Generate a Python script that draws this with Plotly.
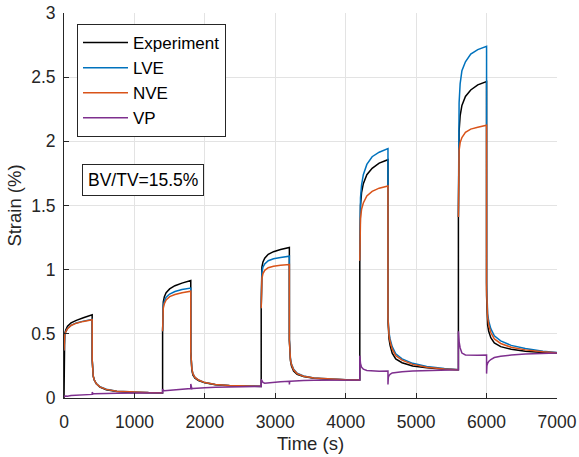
import plotly.graph_objects as go

# ---- data ----
cycle_starts = [0, 1400, 2800, 4200, 5600]
# per-cycle sample offsets (s): base, gap, jump, loading..., 400, drop, recovery...
offsets = [0, 0, 0, 3, 10, 25, 50, 100, 175, 275, 400,
           400, 405, 415, 430, 460, 510, 600, 750, 950, 1200]
t_end = 7000

experiment = [
    0.00, 0.00, 0.37, 0.47, 0.50, 0.53, 0.56, 0.585, 0.605, 0.625, 0.648,
    0.30, 0.22, 0.17, 0.14, 0.11, 0.085, 0.065, 0.050, 0.043, 0.041,
    0.040, 0.040, 0.52, 0.70, 0.75, 0.79, 0.82, 0.85, 0.875, 0.895, 0.915,
    0.36, 0.28, 0.22, 0.18, 0.155, 0.135, 0.118, 0.104, 0.096, 0.092,
    0.090, 0.090, 0.70, 0.96, 1.02, 1.06, 1.09, 1.12, 1.14, 1.157, 1.173,
    0.45, 0.35, 0.29, 0.25, 0.21, 0.185, 0.168, 0.154, 0.146, 0.142,
    0.140, 0.140, 1.07, 1.38, 1.50, 1.60, 1.67, 1.74, 1.79, 1.83, 1.857,
    0.60, 0.52, 0.46, 0.41, 0.35, 0.305, 0.275, 0.250, 0.235, 0.224,
    0.220, 0.220, 1.41, 1.90, 2.08, 2.20, 2.28, 2.35, 2.40, 2.44, 2.465,
    0.80, 0.66, 0.57, 0.52, 0.47, 0.43, 0.40, 0.38, 0.365, 0.355,
    0.350,
]

lve = [
    0.00, None, 0.37, 0.46, 0.49, 0.516, 0.541, 0.566, 0.585, 0.599, 0.612,
    0.30, 0.22, 0.17, 0.14, 0.11, 0.088, 0.068, 0.053, 0.046, 0.042,
    0.041, None, 0.52, 0.68, 0.72, 0.755, 0.785, 0.81, 0.83, 0.845, 0.857,
    0.36, 0.29, 0.23, 0.19, 0.16, 0.14, 0.12, 0.105, 0.097, 0.093,
    0.091, None, 0.70, 0.93, 0.98, 1.02, 1.045, 1.07, 1.085, 1.095, 1.105,
    0.46, 0.37, 0.31, 0.265, 0.225, 0.193, 0.172, 0.156, 0.148, 0.143,
    0.141, None, 1.07, 1.45, 1.56, 1.66, 1.74, 1.82, 1.88, 1.915, 1.943,
    0.63, 0.57, 0.51, 0.46, 0.40, 0.345, 0.305, 0.270, 0.245, 0.229,
    0.221, None, 1.41, 2.10, 2.30, 2.45, 2.55, 2.62, 2.68, 2.715, 2.74,
    0.90, 0.76, 0.66, 0.60, 0.54, 0.485, 0.445, 0.41, 0.385, 0.365,
    0.355,
]

nve = [
    0.00, None, 0.37, 0.46, 0.49, 0.515, 0.54, 0.565, 0.583, 0.597, 0.61,
    0.30, 0.22, 0.17, 0.14, 0.11, 0.087, 0.067, 0.052, 0.045, 0.042,
    0.041, None, 0.52, 0.66, 0.70, 0.735, 0.765, 0.79, 0.807, 0.82, 0.832,
    0.36, 0.29, 0.23, 0.19, 0.16, 0.14, 0.12, 0.105, 0.097, 0.093,
    0.091, None, 0.70, 0.88, 0.93, 0.97, 0.995, 1.015, 1.027, 1.034, 1.04,
    0.45, 0.36, 0.30, 0.26, 0.22, 0.19, 0.17, 0.155, 0.147, 0.142,
    0.140, None, 1.07, 1.33, 1.40, 1.47, 1.52, 1.575, 1.61, 1.635, 1.652,
    0.62, 0.55, 0.49, 0.44, 0.38, 0.33, 0.295, 0.262, 0.240, 0.226,
    0.220, None, 1.41, 1.85, 1.93, 1.99, 2.03, 2.07, 2.095, 2.11, 2.125,
    0.85, 0.72, 0.63, 0.57, 0.51, 0.46, 0.425, 0.395, 0.375, 0.36,
    0.352,
]

vp = [
    0.010, 0.010, 0.015, 0.015, 0.012, 0.016, 0.014, 0.019, 0.022, 0.026, 0.028,
    0.045, 0.033, 0.032, 0.033, 0.034, 0.035, 0.036, 0.037, 0.038, 0.039,
    0.040, 0.040, 0.070, 0.065, 0.060, 0.057, 0.058, 0.063, 0.066, 0.071, 0.074,
    0.110, 0.075, 0.072, 0.074, 0.076, 0.078, 0.080, 0.083, 0.086, 0.088,
    0.090, 0.090, 0.145, 0.140, 0.130, 0.121, 0.115, 0.119, 0.122, 0.127, 0.130,
    0.105, 0.128, 0.130, 0.131, 0.133, 0.135, 0.137, 0.139, 0.140, 0.141,
    0.140, 0.140, 0.330, 0.300, 0.270, 0.240, 0.225, 0.215, 0.210, 0.208, 0.210,
    0.105, 0.160, 0.175, 0.185, 0.195, 0.200, 0.205, 0.210, 0.214, 0.217,
    0.220, 0.220, 0.520, 0.480, 0.440, 0.390, 0.350, 0.335, 0.333, 0.333, 0.335,
    0.190, 0.250, 0.270, 0.285, 0.300, 0.315, 0.325, 0.335, 0.342, 0.347,
    0.350,
]

time_s = [c + o for c in cycle_starts for o in offsets] + [t_end]

series_names = ["Experiment", "LVE", "NVE", "VP"]
series_colors = ["#000000", "#0072BD", "#D95319", "#7E2F8E"]
series_values = [experiment, lve, nve, vp]

x_ticks = [0, 1000, 2000, 3000, 4000, 5000, 6000, 7000]
y_ticks = [0, 0.5, 1, 1.5, 2, 2.5, 3]
y_tick_text = ["0", "0.5", "1", "1.5", "2", "2.5", "3"]

FONT = "Arial, Liberation Sans, sans-serif"

fig = go.Figure()
for name, color, vals in zip(series_names, series_colors, series_values):
    fig.add_trace(go.Scatter(
        x=time_s, y=vals, mode="lines", name=name,
        line=dict(color=color, width=1.5),
        connectgaps=False,
    ))

fig.add_annotation(
    x=1115, y=1.70, xref="x", yref="y",
    text="BV/TV=15.5%", showarrow=False,
    font=dict(family=FONT, size=17.5, color="#000000"),
    bordercolor="#262626", borderwidth=1, borderpad=5,
    bgcolor="#ffffff", xanchor="center", yanchor="middle",
)

axis_common = dict(
    showgrid=True, gridcolor="#e3e3e3", gridwidth=1,
    zeroline=False, showline=True, linecolor="#262626", linewidth=1,
    ticks="inside", ticklen=5, tickcolor="#262626",
    tickfont=dict(family=FONT, size=17.5, color="#262626"),
    mirror=False, automargin=False,
)

fig.update_layout(
    width=579, height=457,
    margin=dict(l=64, r=22, t=13, b=59, autoexpand=False),
    paper_bgcolor="#ffffff", plot_bgcolor="#ffffff",
    showlegend=True,
    legend=dict(
        x=(77 - 64) / 493, y=(398 - 24) / 385, xanchor="left", yanchor="top",
        bgcolor="#ffffff", bordercolor="#262626", borderwidth=1,
        font=dict(family=FONT, size=17, color="#000000"),
        tracegroupgap=0, itemwidth=45,
    ),
    xaxis=dict(
        range=[0, 7000], tickvals=x_ticks,
        title=dict(text="Time (s)", font=dict(family=FONT, size=18.5, color="#262626"), standoff=6),
        ticklabelstandoff=8,
        **axis_common,
    ),
    yaxis=dict(
        range=[0, 3], tickvals=y_ticks, ticktext=y_tick_text,
        title=dict(text="Strain (%)", font=dict(family=FONT, size=18.5, color="#262626"), standoff=4),
        ticklabelstandoff=4,
        **axis_common,
    ),
)

fig.write_html("out.html")
